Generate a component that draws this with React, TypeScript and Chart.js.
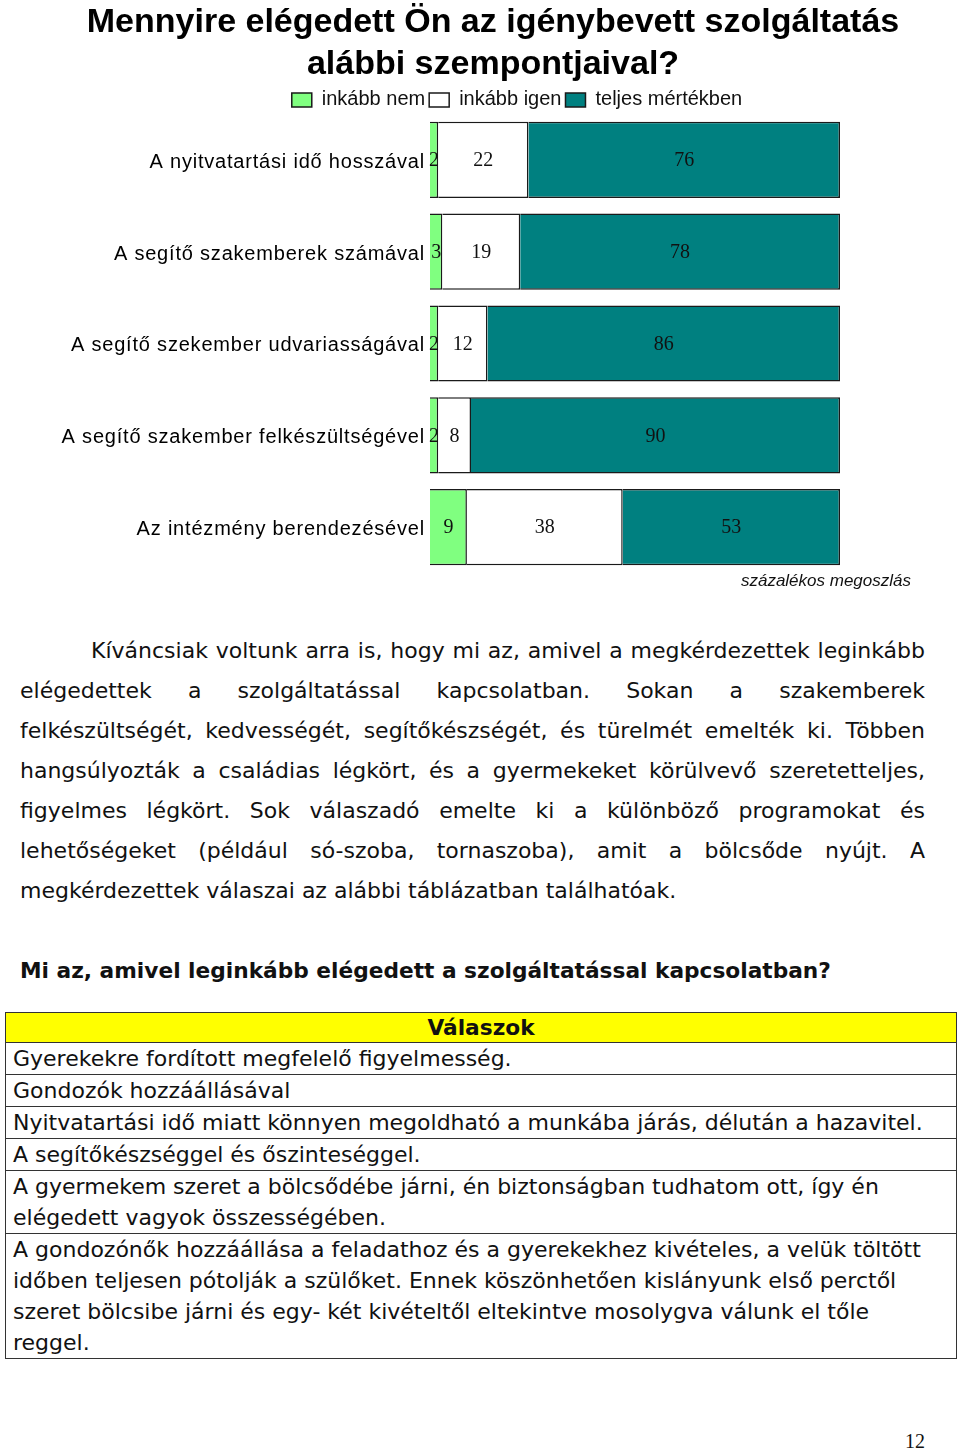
import React, { useEffect, useRef } from "react";
import { Chart, registerables } from "chart.js";

Chart.register(...registerables);

const categories = [
  "A nyitvatartási idő hosszával",
  "A segítő szakemberek számával",
  "A segítő szekember udvariasságával",
  "A segítő szakember felkészültségével",
  "Az intézmény berendezésével",
];
const inkabbNem = [2, 3, 2, 2, 9];
const inkabbIgen = [22, 19, 12, 8, 38];
const teljesMertekben = [76, 78, 86, 90, 53];
const seriesNames = ["inkább nem", "inkább igen", "teljes mértékben"];
const titleLines = ["Mennyire elégedett Ön az igénybevett szolgáltatás", "alábbi szempontjaival?"];

const paragraphLines = [
  "Kíváncsiak voltunk arra is, hogy mi az, amivel a megkérdezettek leginkább",
  "elégedettek a szolgáltatással kapcsolatban.  Sokan a szakemberek",
  "felkészültségét, kedvességét, segítőkészségét, és türelmét emelték ki. Többen",
  "hangsúlyozták a családias légkört, és a gyermekeket körülvevő szeretetteljes,",
  "figyelmes légkört.  Sok válaszadó emelte ki a különböző programokat és",
  "lehetőségeket (például só-szoba, tornaszoba), amit a bölcsőde nyújt. A",
  "megkérdezettek válaszai az alábbi táblázatban találhatóak.",
];

const tableRows: string[][] = [
  ["Gyerekekre fordított megfelelő figyelmesség."],
  ["Gondozók hozzáállásával"],
  ["Nyitvatartási idő miatt könnyen megoldható a munkába járás, délután a hazavitel."],
  ["A segítőkészséggel és őszinteséggel."],
  [
    "A gyermekem szeret a bölcsődébe járni, én biztonságban tudhatom ott, így én",
    "elégedett vagyok összességében.",
  ],
  [
    "A gondozónők hozzáállása a feladathoz és a gyerekekhez kivételes, a velük töltött",
    "időben teljesen pótolják a szülőket. Ennek köszönhetően kislányunk első perctől",
    "szeret bölcsibe járni és egy- két kivételtől eltekintve mosolygva válunk el tőle",
    "reggel.",
  ],
];

const valueLabelPlugin = {
  id: "valueLabels",
  afterDatasetsDraw(chart: any) {
    const ctx = chart.ctx;
    ctx.save();
    ctx.font = '20px "Liberation Serif"';
    ctx.fillStyle = "#111";
    ctx.textAlign = "center";
    ctx.textBaseline = "middle";
    chart.data.datasets.forEach((ds: any, i: number) => {
      const meta = chart.getDatasetMeta(i);
      meta.data.forEach((el: any, j: number) => {
        const v = ds.data[j];
        const cx = (el.x + el.base) / 2;
        ctx.fillText(String(v), cx, el.y + 1);
      });
    });
    ctx.restore();
  },
};

const tweakPlugin = {
  id: "tweaks",
  afterLayout(chart: any) {
    const lg = chart.legend;
    if (lg) {
      lg.left += 24;
      lg.right += 24;
    }
    const ys = chart.scales.y;
    if (ys && !ys._spaced) {
      const orig = ys.drawLabels.bind(ys);
      ys.drawLabels = (ca: any) => {
        const ctx = chart.ctx;
        ctx.save();
        (ctx as any).letterSpacing = "0.8px";
        ctx.translate(0, 2.5);
        orig(ca);
        ctx.restore();
      };
      ys._spaced = true;
    }
  },
};

function BarChart() {
  const ref = useRef<HTMLCanvasElement>(null);
  useEffect(() => {
    if (!ref.current) return;
    const chart = new Chart(ref.current, {
      type: "bar",
      data: {
        labels: categories,
        datasets: [
          {
            label: seriesNames[0],
            data: inkabbNem,
            backgroundColor: "#80FF80",
            borderColor: "#1a1a1a",
            borderWidth: 1.5,
          },
          {
            label: seriesNames[1],
            data: inkabbIgen,
            backgroundColor: "#FFFFFF",
            borderColor: "#1a1a1a",
            borderWidth: 1.5,
          },
          {
            label: seriesNames[2],
            data: teljesMertekben,
            backgroundColor: "#008080",
            borderColor: "#1a1a1a",
            borderWidth: 1.5,
          },
        ],
      },
      options: {
        indexAxis: "y",
        responsive: false,
        animation: false,
        layout: { padding: { left: 26, right: 0, top: 0, bottom: 27 } },
        datasets: {
          bar: { categoryPercentage: 1, barPercentage: 0.83 },
        },
        scales: {
          x: {
            stacked: true,
            min: 0,
            max: 100,
            display: false,
          },
          y: {
            stacked: true,
            grid: { display: false, drawTicks: false, tickLength: 0 },
            border: { display: false },
            ticks: {
              color: "#000",
              padding: 5,
              font: { family: '"Liberation Sans", Arial', size: 20 },
            },
            afterFit(scale: any) {
              scale.width = 404;
            },
          },
          y2: {
            type: "linear",
            axis: "y",
            position: "right",
            display: true,
            grid: { display: false, drawTicks: false },
            border: { display: false },
            ticks: { display: false },
            afterFit(scale: any) {
              scale.width = 120;
            },
          },
        },
        plugins: {
          title: {
            display: true,
            text: titleLines,
            color: "#000",
            font: { family: '"Liberation Sans", Arial', size: 34, weight: "bold", lineHeight: 1.22 },
            padding: { top: 2, bottom: 1 },
          },
          legend: {
            display: true,
            position: "top",
            maxHeight: 28,
            labels: {
              color: "#111",
              boxWidth: 20,
              boxHeight: 14,
              padding: 4,
              font: { family: '"Liberation Sans", Arial', size: 20 },
            },
          },
          tooltip: { enabled: false },
        },
      },
      plugins: [valueLabelPlugin, tweakPlugin],
    } as any);
    return () => chart.destroy();
  }, []);
  return <canvas ref={ref} width={960} height={600} style={{ position: "absolute", left: 0, top: 0 }} />;
}

const textFont = '"DejaVu Sans", Verdana, sans-serif';

export default function App() {
  return (
    <div style={{ position: "absolute", left: 0, top: 0, width: 960, height: 1450, background: "#fff", overflow: "hidden" }}>
      <BarChart />
      <div
        style={{
          position: "absolute",
          right: 49,
          top: 570,
          font: 'italic 17px "Liberation Sans", Arial',
          color: "#111",
          lineHeight: "22px",
        }}
      >
        százalékos megoszlás
      </div>
      <div style={{ position: "absolute", left: 20, top: 631, width: 905, font: `22px ${textFont}`, color: "#111" }}>
        {paragraphLines.map((line, i) => (
          <div
            key={i}
            style={{
              height: 40,
              lineHeight: "40px",
              whiteSpace: "nowrap",
              paddingLeft: i === 0 ? 71 : 0,
              textAlign: "justify",
              textAlignLast: i === paragraphLines.length - 1 ? "left" : "justify",
            } as any}
          >
            {line}
          </div>
        ))}
      </div>
      <div
        style={{
          position: "absolute",
          left: 20,
          top: 951,
          font: `bold 21.7px ${textFont}`,
          lineHeight: "40px",
          color: "#111",
          whiteSpace: "nowrap",
        }}
      >
        Mi az, amivel leginkább elégedett a szolgáltatással kapcsolatban?
      </div>
      <table
        style={{
          position: "absolute",
          left: 5,
          top: 1012,
          width: 952,
          borderCollapse: "collapse",
          font: `22px ${textFont}`,
          color: "#111",
        }}
      >
        <tbody>
          <tr>
            <td
              style={{
                background: "#FFFF00",
                border: "1px solid #333",
                textAlign: "center",
                fontWeight: "bold",
                fontSize: 21.7,
                lineHeight: "29px",
                padding: 0,
              }}
            >
              Válaszok
            </td>
          </tr>
          {tableRows.map((row, i) => (
            <tr key={i}>
              <td
                style={{
                  border: "1px solid #333",
                  lineHeight: "31px",
                  padding: "0 0 0 7px",
                  whiteSpace: "nowrap",
                }}
              >
                {row.map((l, j) => (
                  <div key={j}>{l}</div>
                ))}
              </td>
            </tr>
          ))}
        </tbody>
      </table>
      <div
        style={{
          position: "absolute",
          right: 35,
          top: 1428,
          font: '20px "Liberation Serif", serif',
          lineHeight: "26px",
          color: "#111",
        }}
      >
        12
      </div>
    </div>
  );
}
